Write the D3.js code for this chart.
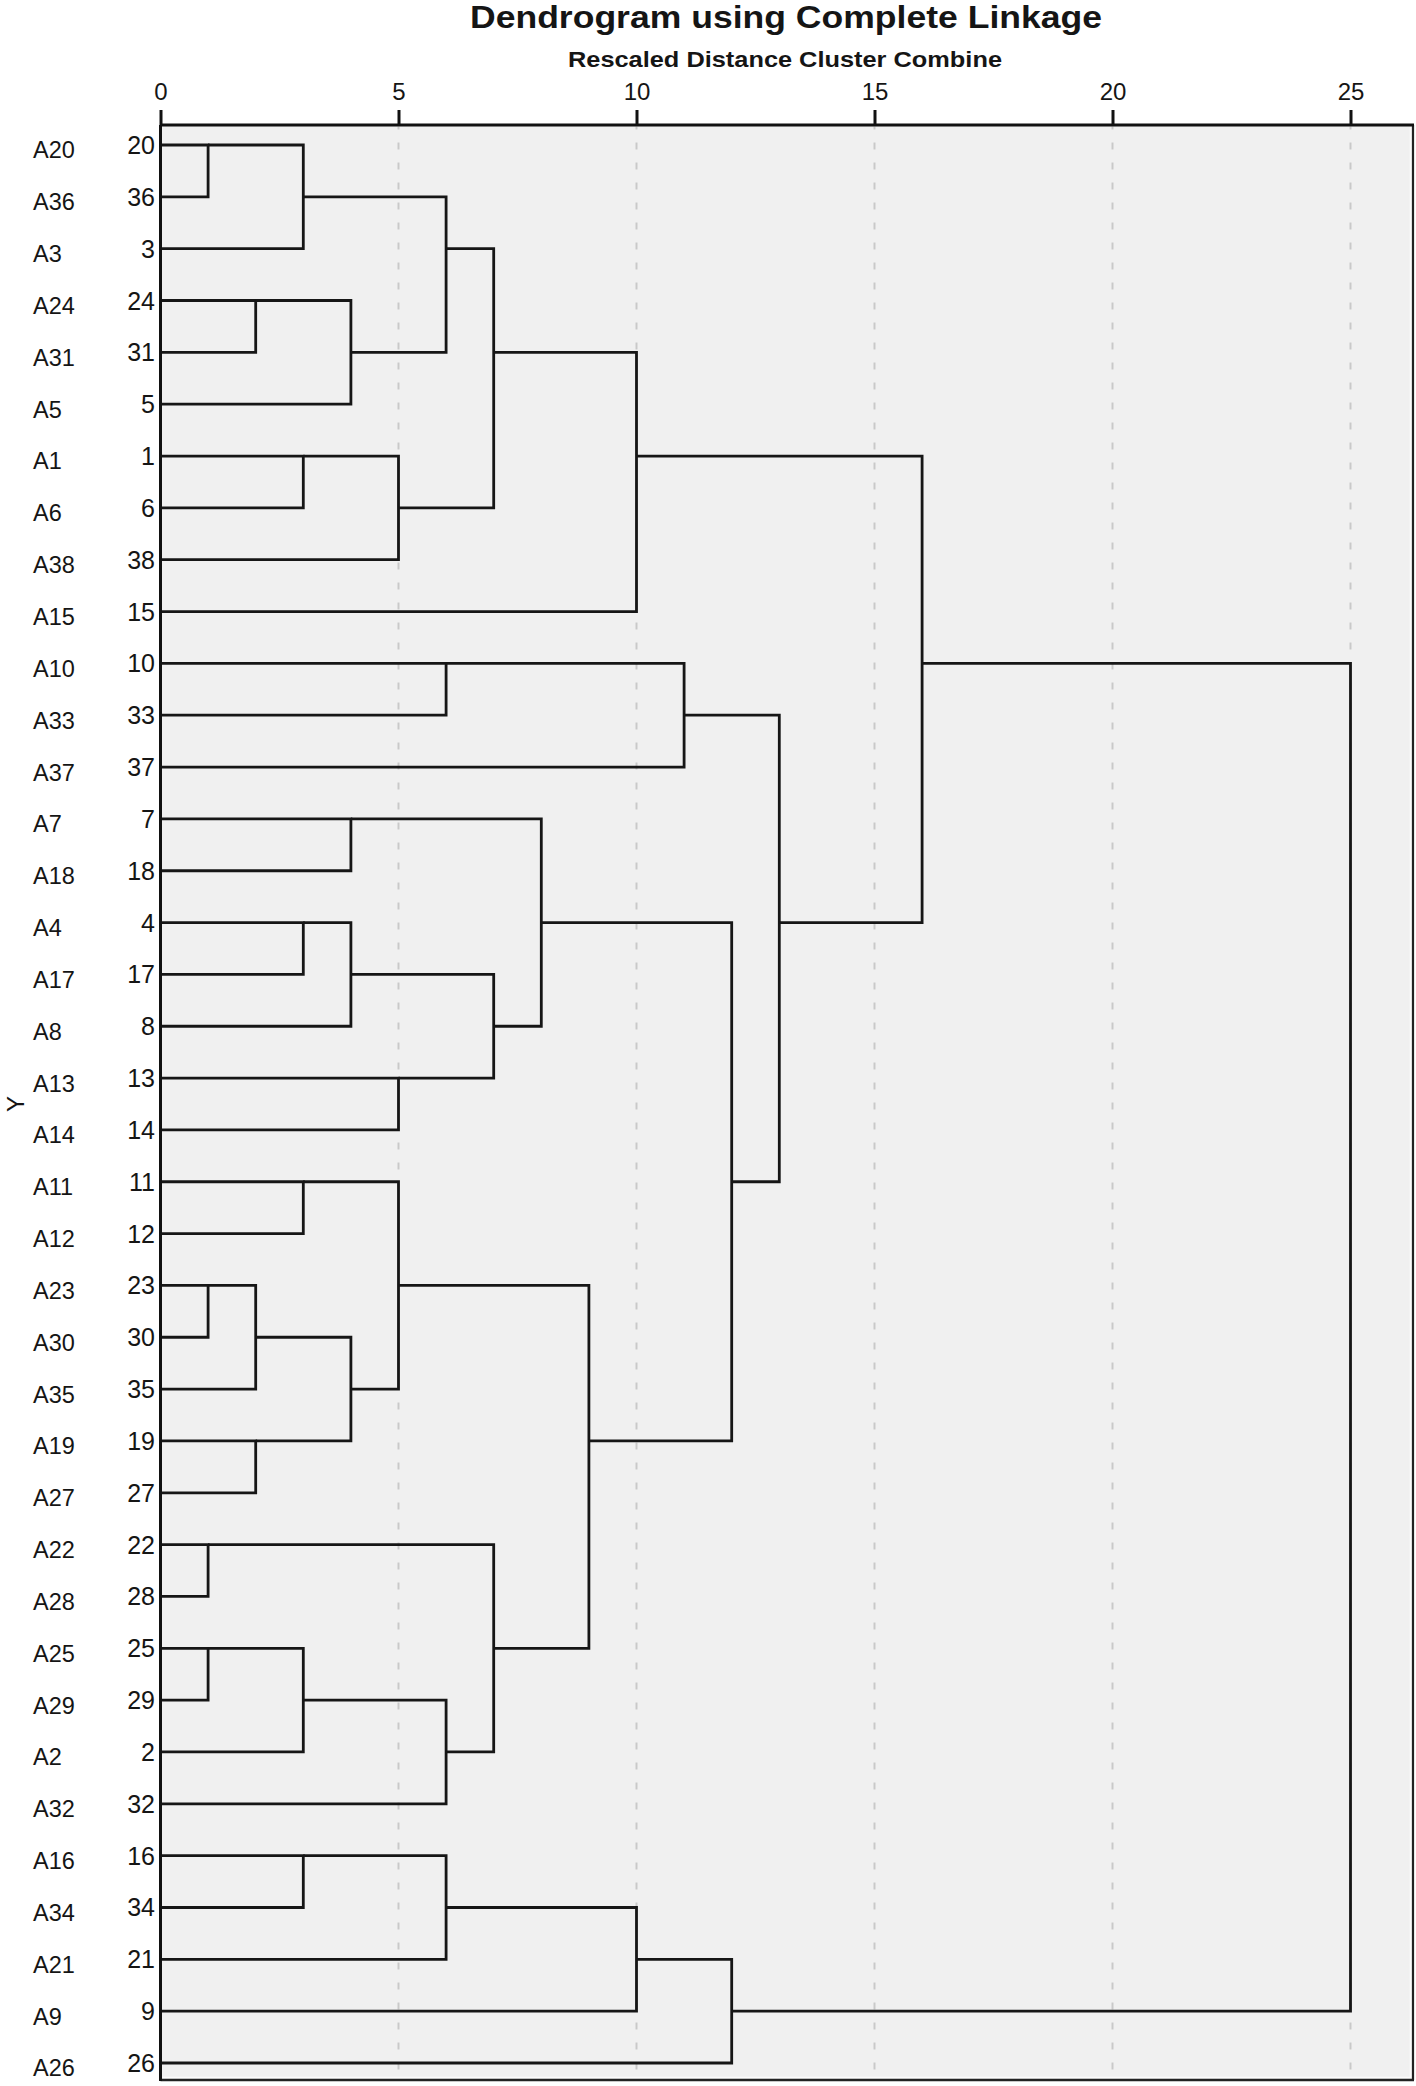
<!DOCTYPE html>
<html>
<head>
<meta charset="utf-8">
<script src="https://cdn.jsdelivr.net/npm/d3@7"></script>
<style>
  html, body { margin: 0; padding: 0; background: #ffffff; }
  svg { display: block; }
  text { font-family: "Liberation Sans", Arial, Helvetica, sans-serif; fill: #151515; }
</style>
</head>
<body>
<script>
// ---------- DATA ----------
const leafCases = [20, 36, 3, 24, 31, 5, 1, 6, 38, 15, 10, 33, 37, 7, 18, 4, 17, 8, 13, 14,
                   11, 12, 23, 30, 35, 19, 27, 22, 28, 25, 29, 2, 32, 16, 34, 21, 9, 26];
const leafNames = ["A20", "A36", "A3", "A24", "A31", "A5", "A1", "A6", "A38", "A15", "A10", "A33",
                   "A37", "A7", "A18", "A4", "A17", "A8", "A13", "A14", "A11", "A12", "A23", "A30",
                   "A35", "A19", "A27", "A22", "A28", "A25", "A29", "A2", "A32", "A16", "A34", "A21",
                   "A9", "A26"];
// merges: [first member, second member, rescaled distance]; numbers = cases, "mK" = merge K
const merges = [
  [20, 36, 1],        // m0
  ["m0", 3, 3],       // m1
  [24, 31, 2],        // m2
  ["m2", 5, 4],       // m3
  ["m1", "m3", 6],    // m4
  [1, 6, 3],          // m5
  ["m5", 38, 5],      // m6
  ["m4", "m6", 7],    // m7
  ["m7", 15, 10],     // m8
  [10, 33, 6],        // m9
  ["m9", 37, 11],     // m10
  [7, 18, 4],         // m11
  [4, 17, 3],         // m12
  ["m12", 8, 4],      // m13
  [13, 14, 5],        // m14
  ["m13", "m14", 7],  // m15
  ["m11", "m15", 8],  // m16
  [11, 12, 3],        // m17
  [23, 30, 1],        // m18
  ["m18", 35, 2],     // m19
  [19, 27, 2],        // m20
  ["m19", "m20", 4],  // m21
  ["m17", "m21", 5],  // m22
  [22, 28, 1],        // m23
  [25, 29, 1],        // m24
  ["m24", 2, 3],      // m25
  ["m25", 32, 6],     // m26
  ["m23", "m26", 7],  // m27
  ["m22", "m27", 9],  // m28
  ["m16", "m28", 12], // m29
  ["m10", "m29", 13], // m30
  ["m8", "m30", 16],  // m31
  [16, 34, 3],        // m32
  ["m32", 21, 6],     // m33
  ["m33", 9, 10],     // m34
  ["m34", 26, 12],    // m35
  ["m31", "m35", 25]  // m36
];
const xTicks = [0, 5, 10, 15, 20, 25];
const gridTicks = [5, 10, 15, 20, 25];
const titleText = "Dendrogram using Complete Linkage";
const subtitleText = "Rescaled Distance Cluster Combine";
const yAxisLabel = "Y";

// ---------- LAYOUT ----------
const W = 1416, H = 2086;
const box = { left: 160.5, right: 1413, top: 125, bottom: 2080 };

const svg = d3.select("body").append("svg").attr("width", W).attr("height", H);

const x = d3.scaleLinear().domain([0, 25]).range([160.5, 1350.5]);
const y = d3.scaleLinear().domain([0, leafCases.length - 1]).range([145, 2063]);

// plot background
svg.append("rect")
  .attr("x", box.left).attr("y", box.top)
  .attr("width", box.right - box.left).attr("height", box.bottom - box.top)
  .attr("fill", "#f0f0f0");

// inner highlight lines (right / bottom)
svg.append("line").attr("x1", box.right - 2.5).attr("x2", box.right - 2.5)
  .attr("y1", box.top + 2).attr("y2", box.bottom - 2)
  .attr("stroke", "#fbfbfb").attr("stroke-width", 1.5);
svg.append("line").attr("x1", box.left + 2).attr("x2", box.right - 2)
  .attr("y1", box.bottom - 2.5).attr("y2", box.bottom - 2.5)
  .attr("stroke", "#fbfbfb").attr("stroke-width", 1.5);

// gridlines
svg.append("g").selectAll("line").data(gridTicks).join("line")
  .attr("x1", d => x(d)).attr("x2", d => x(d))
  .attr("y1", box.top + 1.5).attr("y2", box.bottom - 1)
  .attr("stroke", "#c9c9c9").attr("stroke-width", 2)
  .attr("stroke-dasharray", "7,13").attr("stroke-dashoffset", 4);

// ---------- DENDROGRAM ----------
const nodes = new Map();
leafCases.forEach((c, i) => nodes.set(c, { row: i, dist: 0 }));
const links = [];
merges.forEach((m, k) => {
  const a = nodes.get(m[0]), b = nodes.get(m[1]), d = m[2];
  links.push({ a, b, d });
  nodes.set("m" + k, { row: Math.floor((a.row + b.row) / 2), dist: d });
});

svg.append("g").selectAll("path").data(links).join("path")
  .attr("d", l => `M${x(l.a.dist)},${y(l.a.row)}H${x(l.d)}V${y(l.b.row)}H${x(l.b.dist)}`)
  .attr("fill", "none").attr("stroke", "#161616").attr("stroke-width", 2.8)
  .attr("stroke-linejoin", "miter");

// ---------- FRAME ----------
svg.append("line").attr("x1", box.right).attr("x2", box.right)
  .attr("y1", box.top).attr("y2", box.bottom)
  .attr("stroke", "#222").attr("stroke-width", 2.2);
svg.append("line").attr("x1", box.left).attr("x2", box.right + 1)
  .attr("y1", box.bottom).attr("y2", box.bottom)
  .attr("stroke", "#222").attr("stroke-width", 2.6);
svg.append("line").attr("x1", box.left).attr("x2", box.right + 1)
  .attr("y1", box.top).attr("y2", box.top)
  .attr("stroke", "#111").attr("stroke-width", 3);
svg.append("line").attr("x1", box.left).attr("x2", box.left)
  .attr("y1", box.top).attr("y2", box.bottom + 1)
  .attr("stroke", "#111").attr("stroke-width", 3);

// top axis
const axis = svg.append("g").attr("transform", `translate(0,${box.top})`)
  .call(d3.axisTop(x).tickValues(xTicks).tickSize(15).tickPadding(10).tickFormat(d3.format("d")));
axis.select(".domain").remove();
axis.selectAll(".tick line").attr("stroke", "#111").attr("stroke-width", 3);
axis.selectAll(".tick text")
  .style("font-family", '"Liberation Sans", Arial, sans-serif')
  .attr("font-size", 24).attr("fill", "#151515");

// ---------- TEXT ----------
svg.append("text").attr("x", 786).attr("y", 28)
  .attr("text-anchor", "middle").attr("font-size", 32).attr("font-weight", "bold")
  .attr("textLength", 632).attr("lengthAdjust", "spacingAndGlyphs")
  .text(titleText);
svg.append("text").attr("x", 785).attr("y", 67)
  .attr("text-anchor", "middle").attr("font-size", 22.5).attr("font-weight", "bold")
  .attr("textLength", 434).attr("lengthAdjust", "spacingAndGlyphs")
  .text(subtitleText);

// leaf numbers
svg.append("g").selectAll("text").data(leafCases).join("text")
  .attr("x", 155).attr("y", (d, i) => y(i))
  .attr("dy", "0.36em")
  .attr("text-anchor", "end").attr("font-size", 25)
  .text(d => d);

// leaf names
svg.append("g").selectAll("text").data(leafNames).join("text")
  .attr("x", 33).attr("y", (d, i) => y(i) + 5)
  .attr("dy", "0.36em")
  .attr("text-anchor", "start").attr("font-size", 23.5)
  .text(d => d);

// Y axis label
svg.append("text")
  .attr("transform", `translate(24,${y(18.5)}) rotate(-90)`)
  .attr("text-anchor", "middle").attr("font-size", 24).attr("fill", "#333")
  .text(yAxisLabel);
</script>
</body>
</html>
